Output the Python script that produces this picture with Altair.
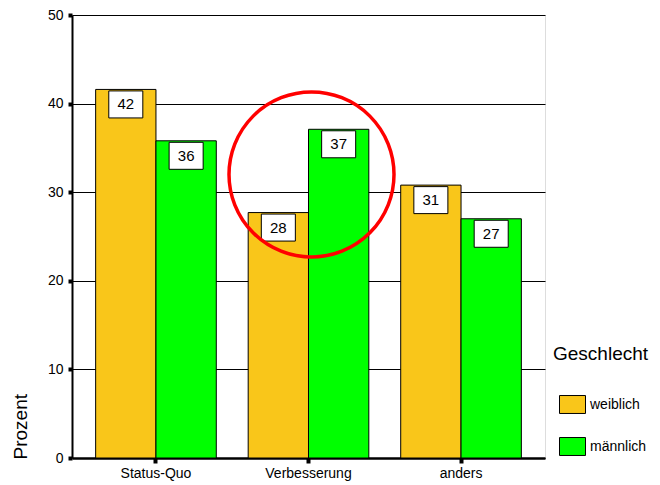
import altair as alt
import pandas as pd

categories = ["Status-Quo", "Verbesserung", "anders"]
genders = ["weiblich", "männlich"]
weiblich = [41.6, 27.7, 30.8]
maennlich = [35.8, 37.1, 27.0]
y_ticks = [0, 10, 20, 30, 40, 50]
colors = ["#F9C61A", "#00FF00"]
highlight_category = "Verbesserung"
highlight_y = 32

rows = []
for i, c in enumerate(categories):
    rows.append({"Kategorie": c, "Geschlecht": genders[0], "Prozent": weiblich[i]})
    rows.append({"Kategorie": c, "Geschlecht": genders[1], "Prozent": maennlich[i]})
df = pd.DataFrame(rows)
df_circle = pd.DataFrame([{"Kategorie": highlight_category, "Prozent": highlight_y}])

FONT = "Liberation Sans"

x_enc = alt.X("Kategorie:N", sort=categories,
              scale=alt.Scale(paddingInner=0.209, paddingOuter=0.155),
              axis=alt.Axis(title=None, labelAngle=0, labelFontSize=14, labelFont=FONT,
                            labelColor="black", tickSize=5, tickWidth=4, tickColor="black",
                            domainColor="black", domainWidth=2.5, labelPadding=3, grid=False))
y_enc = alt.Y("Prozent:Q", scale=alt.Scale(domain=[0, 50], nice=False),
              axis=alt.Axis(values=y_ticks, title="Prozent", titleFontSize=19, titleFont=FONT,
                            titleFontWeight="normal", titleColor="black", titleAngle=270,
                            titleX=-52, titleY=444, titleAlign="left", titleBaseline="middle",
                            labelFontSize=14, labelFont=FONT, labelColor="black",
                            tickSize=4, tickWidth=4, tickColor="black", labelPadding=5,
                            domainColor="black", domainWidth=2,
                            grid=True, gridColor="black", gridWidth=1, gridOpacity=1))
xo = alt.XOffset("Geschlecht:N", sort=genders, scale=alt.Scale(paddingInner=0, paddingOuter=0))

bars = alt.Chart(df).mark_bar(stroke="black", strokeWidth=1, opacity=1).encode(
    x=x_enc, y=y_enc, xOffset=xo,
    color=alt.Color("Geschlecht:N", sort=genders,
                    scale=alt.Scale(domain=genders, range=colors),
                    legend=alt.Legend(title="Geschlecht", orient="none", legendX=481, legendY=330,
                                      titleFontSize=19, titleFont=FONT, titleFontWeight="normal",
                                      titleColor="black", titlePadding=27,
                                      labelFontSize=14, labelFont=FONT, labelColor="black",
                                      symbolType="M-1,-0.69L1,-0.69L1,0.69L-1,0.69Z",
                                      symbolSize=676, symbolStrokeColor="black",
                                      symbolStrokeWidth=1, symbolOpacity=1, symbolOffset=6,
                                      labelOffset=4, rowPadding=17, padding=0)),
)

boxes = alt.Chart(df).mark_point(
    shape="M-1.26,-1L1.26,-1L1.26,1L-1.26,1Z", size=729, filled=True,
    fill="white", stroke="black", strokeWidth=1, opacity=1, yOffset=15,
).encode(x=alt.X("Kategorie:N", sort=categories), y="Prozent:Q", xOffset=xo)

labels = alt.Chart(df).mark_text(
    fontSize=15, font=FONT, color="black", yOffset=15, baseline="middle", align="center",
).encode(x=alt.X("Kategorie:N", sort=categories), y="Prozent:Q", xOffset=xo,
         text=alt.Text("Prozent:Q", format=".0f"))

circle = alt.Chart(df_circle).mark_point(
    shape="circle", size=27225, filled=False, stroke="#FF0000", strokeWidth=3.5, opacity=1,
    xOffset=3,
).encode(x=alt.X("Kategorie:N", sort=categories), y="Prozent:Q")

chart = alt.layer(bars, boxes, labels, circle).properties(
    width=473, height=443,
    autosize=alt.AutoSizeParams(type="none"),
    padding={"left": 64, "top": 7, "right": 107, "bottom": 25},
).configure_view(stroke="black", strokeWidth=1.5).configure(background="white")

chart.save("out.html", embed_options={"renderer": "svg", "actions": False})
